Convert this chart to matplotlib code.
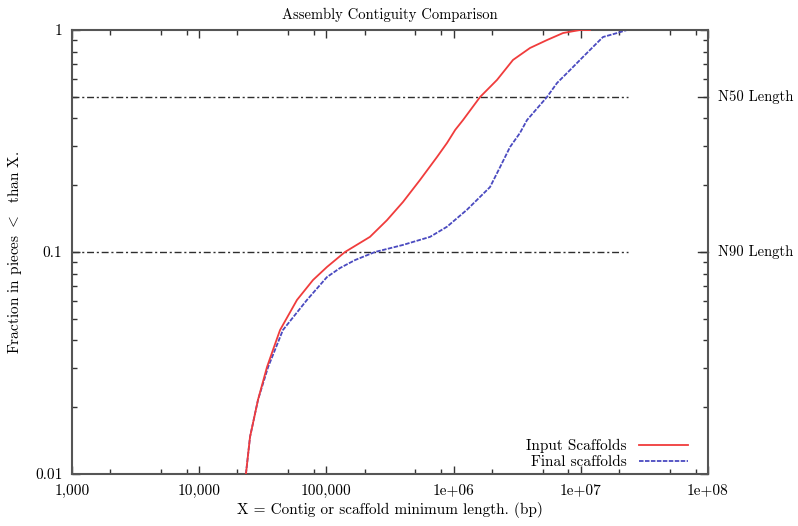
import matplotlib
matplotlib.use("Agg")
import matplotlib.pyplot as plt
from matplotlib.ticker import FixedLocator, LogLocator, NullFormatter, FixedFormatter
import matplotlib.transforms as mtransforms

plt.rcParams['font.family'] = 'serif'
plt.rcParams['font.serif'] = ['cmr10']
plt.rcParams['mathtext.fontset'] = 'cm'
plt.rcParams['axes.formatter.use_mathtext'] = True

# ---- data ----
input_x = [23300, 25100, 29000, 34100, 38000, 43200, 58700, 78500, 101000, 140000,
           220000, 299000, 400000, 544000, 741000, 888000, 1030000, 1186000, 1614000,
           2195000, 2930000, 3990000, 5420000, 7250000, 9860000, 11800000]
input_y = [0.01, 0.0147, 0.0216, 0.0303, 0.0362, 0.0445, 0.0608, 0.0748, 0.0856, 0.1,
           0.117, 0.139, 0.168, 0.211, 0.268, 0.310, 0.355, 0.393, 0.499,
           0.596, 0.733, 0.830, 0.901, 0.969, 1.0, 1.0]

final_x = [23300, 25100, 29000, 34800, 39400, 45500, 70300, 101000, 128000, 168000,
           241000, 400000, 653000, 888000, 1274000, 1932000, 2317000, 2776000, 3327000,
           3777000, 5420000, 6500000, 8225000, 10400000, 13400000, 14950000, 19300000, 23100000]
final_y = [0.01, 0.0147, 0.0216, 0.0303, 0.0362, 0.0445, 0.0608, 0.0771, 0.0847, 0.092,
           0.1, 0.1076, 0.117, 0.130, 0.155, 0.196, 0.241, 0.297, 0.344,
           0.393, 0.499, 0.577, 0.660, 0.756, 0.874, 0.930, 0.969, 1.0]

ref_levels = [0.5, 0.1]
ref_labels = ["N50 Length", "N90 Length"]
ref_xrange = [1000, 23500000]

xticks = [1e3, 1e4, 1e5, 1e6, 1e7, 1e8]
xticklabels = ["1,000", "10,000", "100,000", "1e+06", "1e+07", "1e+08"]
yticks = [0.01, 0.1, 1]
yticklabels = ["0.01", "0.1", "1"]

title = "Assembly Contiguity Comparison"
xlabel = "X = Contig or scaffold minimum length. (bp)"
ylabel = r"Fraction in pieces $<$  than X."
series_names = ["Input Scaffolds", "Final scaffolds"]

# ---- figure ----
fig = plt.figure(figsize=(7.98, 5.26), dpi=100)
ax = fig.add_axes([72/798, 1-474/526, (708-72)/798, (474-30)/526])
ax.set_xscale('log')
ax.set_yscale('log')
ax.set_xlim(1e3, 1e8)
ax.set_ylim(0.01, 1)

for lvl in ref_levels:
    ax.plot(ref_xrange, [lvl, lvl], color='#2e2e2e', lw=1.0,
            linestyle=(0, (5, 2, 1.5, 2)), zorder=1)

ax.plot(input_x, input_y, color='#f03c3c', lw=1.3, label=series_names[0], zorder=3)
ax.plot(final_x, final_y, color='#4a4ac0', lw=1.3, linestyle=(0, (2.5, 0.8)),
        label=series_names[1], zorder=2)

ax.xaxis.set_major_locator(FixedLocator(xticks))
ax.xaxis.set_major_formatter(FixedFormatter(xticklabels))
ax.xaxis.set_minor_locator(LogLocator(base=10, subs=[2, 5, 8]))
ax.xaxis.set_minor_formatter(NullFormatter())
ax.yaxis.set_major_locator(FixedLocator(yticks))
ax.yaxis.set_major_formatter(FixedFormatter(yticklabels))
ax.yaxis.set_minor_locator(LogLocator(base=10, subs=[2, 3, 4, 5, 6, 7, 8, 9]))
ax.yaxis.set_minor_formatter(NullFormatter())

ax.tick_params(which='both', direction='in', top=True, right=True, color='#333333')
ax.tick_params(which='major', length=6, width=1, labelsize=11, pad=7)
ax.tick_params(which='minor', length=3.5, width=1)
for s in ax.spines.values():
    s.set_color('#555555')
    s.set_linewidth(1.5)

trans = mtransforms.blended_transform_factory(ax.transAxes, ax.transData)
for lvl, lab in zip(ref_levels, ref_labels):
    ax.plot([1.0, 0.985], [lvl, lvl], transform=trans, color='#333333', lw=1, clip_on=False)
    ax.text(1.015, lvl, lab, transform=trans, ha='left', va='center', fontsize=10.5)

fig.text(390/798, 1-15/526, title, ha='center', va='center', fontsize=10.5)
fig.text(390/798, 1-510/526, xlabel, ha='center', va='center', fontsize=11)
fig.text(15/798, 1-252/526, ylabel, ha='center', va='center', rotation=90, fontsize=11)

leg = ax.legend(loc='lower right', bbox_to_anchor=((688-72)/636, (474-469)/444),
                markerfirst=False, frameon=False, fontsize=11, borderaxespad=0,
                handlelength=3.2, handletextpad=0.8, labelspacing=0.15, borderpad=0)

fig.savefig("out.png", dpi=100, facecolor='white')
